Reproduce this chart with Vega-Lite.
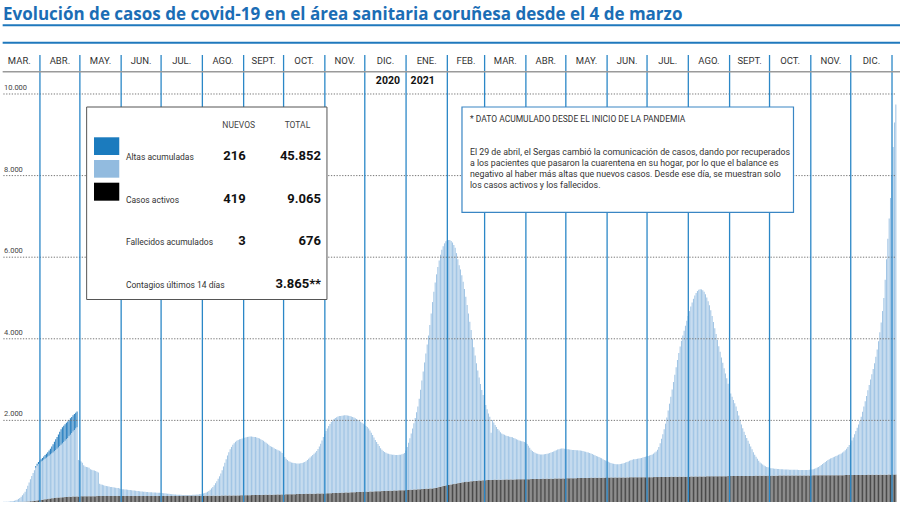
{
"$schema":"https://vega.github.io/schema/vega-lite/v6.json",
"width":900,"height":480,
"autosize":{"type":"none"},
"padding":{"top":43,"left":0,"right":0,"bottom":0},
"background":"white",
"config":{"view":{"stroke":null},"font":"Roboto"},
"title":{"text":"Evolución de casos de covid-19 en el área sanitaria coruñesa desde el 4 de marzo","anchor":"start","frame":"group","offset":-13,"baseline":"alphabetic","fontSize":17,"font":"Open Sans","fontWeight":"bold","color":"#1b6db5","dx":3},
"data":{"values":[{}]},
"datasets":{
"ejes":[{"v":2000,"t":"2.000"},{"v":4000,"t":"4.000"},{"v":6000,"t":"6.000"},{"v":8000,"t":"8.000"},{"v":10000,"t":"10.000"}],
"limites":[{"d":"2020-04-01"},{"d":"2020-05-01"},{"d":"2020-06-01"},{"d":"2020-07-01"},{"d":"2020-08-01"},{"d":"2020-09-01"},{"d":"2020-10-01"},{"d":"2020-11-01"},{"d":"2020-12-01"},{"d":"2021-01-01"},{"d":"2021-02-01"},{"d":"2021-03-01"},{"d":"2021-04-01"},{"d":"2021-05-01"},{"d":"2021-06-01"},{"d":"2021-07-01"},{"d":"2021-08-01"},{"d":"2021-09-01"},{"d":"2021-10-01"},{"d":"2021-11-01"},{"d":"2021-12-01"},{"d":"2022-01-01"}],
"meses":[{"mes":"2020-03-01","e":"MAR."},{"mes":"2020-04-01","e":"ABR."},{"mes":"2020-05-01","e":"MAY."},{"mes":"2020-06-01","e":"JUN."},{"mes":"2020-07-01","e":"JUL."},{"mes":"2020-08-01","e":"AGO."},{"mes":"2020-09-01","e":"SEPT."},{"mes":"2020-10-01","e":"OCT."},{"mes":"2020-11-01","e":"NOV."},{"mes":"2020-12-01","e":"DIC."},{"mes":"2021-01-01","e":"ENE."},{"mes":"2021-02-01","e":"FEB."},{"mes":"2021-03-01","e":"MAR."},{"mes":"2021-04-01","e":"ABR."},{"mes":"2021-05-01","e":"MAY."},{"mes":"2021-06-01","e":"JUN."},{"mes":"2021-07-01","e":"JUL."},{"mes":"2021-08-01","e":"AGO."},{"mes":"2021-09-01","e":"SEPT."},{"mes":"2021-10-01","e":"OCT."},{"mes":"2021-11-01","e":"NOV."},{"mes":"2021-12-01","e":"DIC."}],
"casos":[
{"d":"2020-03-04","f":0,"p":3},{"d":"2020-03-05","f":0,"p":4},{"d":"2020-03-06","f":0,"p":6},{"d":"2020-03-07","f":0,"p":8},{"d":"2020-03-08","f":0,"p":10},{"d":"2020-03-09","f":0,"p":14},{"d":"2020-03-10","f":0,"p":18},{"d":"2020-03-11","f":0,"p":24},{"d":"2020-03-12","f":0,"p":30},{"d":"2020-03-13","f":0,"p":40},{"d":"2020-03-14","f":0,"p":55},{"d":"2020-03-15","f":1,"p":74},{"d":"2020-03-16","f":2,"p":98},{"d":"2020-03-17","f":3,"p":127},{"d":"2020-03-18","f":4,"p":161},{"d":"2020-03-19","f":6,"p":199},{"d":"2020-03-20","f":8,"p":242},{"d":"2020-03-21","f":10,"p":310},{"d":"2020-03-22","f":12,"p":388},{"d":"2020-03-23","f":15,"p":465},{"d":"2020-03-24","f":18,"p":542},{"d":"2020-03-25","f":21,"p":619},{"d":"2020-03-26","f":25,"p":685},{"d":"2020-03-27","f":29,"p":751},{"d":"2020-03-28","f":33,"p":807,"r":40},{"d":"2020-03-29","f":38,"p":852,"r":45},{"d":"2020-03-30","f":43,"p":887,"r":50},{"d":"2020-03-31","f":47,"p":913,"r":55},
{"d":"2020-04-01","f":50,"p":940,"r":60},{"d":"2020-04-02","f":55,"p":955,"r":70},{"d":"2020-04-03","f":60,"p":975,"r":80},{"d":"2020-04-04","f":65,"p":995,"r":90},{"d":"2020-04-05","f":70,"p":1015,"r":100},{"d":"2020-04-06","f":75,"p":1035,"r":110},{"d":"2020-04-07","f":80,"p":1055,"r":125},{"d":"2020-04-08","f":85,"p":1080,"r":140},{"d":"2020-04-09","f":89,"p":1101,"r":170},{"d":"2020-04-10","f":93,"p":1122,"r":200},{"d":"2020-04-11","f":97,"p":1148,"r":230},{"d":"2020-04-12","f":101,"p":1174,"r":260},{"d":"2020-04-13","f":104,"p":1201,"r":290},{"d":"2020-04-14","f":107,"p":1228,"r":320},{"d":"2020-04-15","f":110,"p":1260,"r":350},{"d":"2020-04-16","f":113,"p":1287,"r":380},{"d":"2020-04-17","f":116,"p":1319,"r":395},{"d":"2020-04-18","f":118,"p":1352,"r":400},{"d":"2020-04-19","f":120,"p":1380,"r":405},{"d":"2020-04-20","f":122,"p":1413,"r":405},{"d":"2020-04-21","f":124,"p":1446,"r":405},{"d":"2020-04-22","f":126,"p":1484,"r":400},{"d":"2020-04-23","f":128,"p":1522,"r":400},{"d":"2020-04-24","f":130,"p":1560,"r":395},{"d":"2020-04-25","f":132,"p":1598,"r":395},{"d":"2020-04-26","f":133,"p":1632,"r":390},{"d":"2020-04-27","f":134,"p":1666,"r":390},{"d":"2020-04-28","f":135,"p":1695,"r":385},{"d":"2020-04-29","f":136,"p":894},{"d":"2020-04-30","f":137,"p":873},
{"d":"2020-05-01","f":138,"p":852},{"d":"2020-05-02","f":139,"p":821},{"d":"2020-05-03","f":139,"p":761},{"d":"2020-05-04","f":140,"p":730},{"d":"2020-05-05","f":140,"p":720},{"d":"2020-05-06","f":141,"p":709},{"d":"2020-05-07","f":141,"p":699},{"d":"2020-05-08","f":142,"p":658},{"d":"2020-05-09","f":142,"p":648},{"d":"2020-05-10","f":143,"p":637},{"d":"2020-05-11","f":143,"p":627},{"d":"2020-05-12","f":143,"p":617},{"d":"2020-05-13","f":144,"p":596},{"d":"2020-05-14","f":144,"p":576},{"d":"2020-05-15","f":144,"p":306},{"d":"2020-05-16","f":145,"p":285},{"d":"2020-05-17","f":145,"p":275},{"d":"2020-05-18","f":145,"p":265},{"d":"2020-05-19","f":145,"p":255},{"d":"2020-05-20","f":146,"p":244},{"d":"2020-05-21","f":146,"p":239},{"d":"2020-05-22","f":146,"p":234},{"d":"2020-05-23","f":146,"p":224},{"d":"2020-05-24","f":146,"p":219},{"d":"2020-05-25","f":147,"p":213},{"d":"2020-05-26","f":147,"p":208},{"d":"2020-05-27","f":147,"p":203},{"d":"2020-05-28","f":147,"p":198},{"d":"2020-05-29","f":147,"p":193},{"d":"2020-05-30","f":147,"p":183},{"d":"2020-05-31","f":147,"p":173},
{"d":"2020-06-01","f":147,"p":168},{"d":"2020-06-02","f":147,"p":165},{"d":"2020-06-03","f":147,"p":161},{"d":"2020-06-04","f":147,"p":158},{"d":"2020-06-05","f":148,"p":152},{"d":"2020-06-06","f":148,"p":148},{"d":"2020-06-07","f":148,"p":144},{"d":"2020-06-08","f":148,"p":140},{"d":"2020-06-09","f":148,"p":136},{"d":"2020-06-10","f":148,"p":132},{"d":"2020-06-11","f":148,"p":128},{"d":"2020-06-12","f":148,"p":124},{"d":"2020-06-13","f":148,"p":120},{"d":"2020-06-14","f":148,"p":116},{"d":"2020-06-15","f":149,"p":111},{"d":"2020-06-16","f":149,"p":107},{"d":"2020-06-17","f":149,"p":103},{"d":"2020-06-18","f":149,"p":99},{"d":"2020-06-19","f":149,"p":96},{"d":"2020-06-20","f":149,"p":93},{"d":"2020-06-21","f":149,"p":91},{"d":"2020-06-22","f":149,"p":89},{"d":"2020-06-23","f":149,"p":87},{"d":"2020-06-24","f":149,"p":85},{"d":"2020-06-25","f":149,"p":83},{"d":"2020-06-26","f":149,"p":81},{"d":"2020-06-27","f":149,"p":79},{"d":"2020-06-28","f":149,"p":77},{"d":"2020-06-29","f":149,"p":75},{"d":"2020-06-30","f":149,"p":73},
{"d":"2020-07-01","f":149,"p":71},{"d":"2020-07-02","f":149,"p":67},{"d":"2020-07-03","f":149,"p":63},{"d":"2020-07-04","f":149,"p":59},{"d":"2020-07-05","f":149,"p":55},{"d":"2020-07-06","f":149,"p":51},{"d":"2020-07-07","f":149,"p":47},{"d":"2020-07-08","f":149,"p":43},{"d":"2020-07-09","f":149,"p":39},{"d":"2020-07-10","f":149,"p":36},{"d":"2020-07-11","f":149,"p":33},{"d":"2020-07-12","f":149,"p":31},{"d":"2020-07-13","f":149,"p":29},{"d":"2020-07-14","f":149,"p":27},{"d":"2020-07-15","f":149,"p":26},{"d":"2020-07-16","f":150,"p":24},{"d":"2020-07-17","f":150,"p":23},{"d":"2020-07-18","f":150,"p":22},{"d":"2020-07-19","f":150,"p":22},{"d":"2020-07-20","f":150,"p":22},{"d":"2020-07-21","f":150,"p":22},{"d":"2020-07-22","f":150,"p":23},{"d":"2020-07-23","f":150,"p":24},{"d":"2020-07-24","f":150,"p":26},{"d":"2020-07-25","f":150,"p":28},{"d":"2020-07-26","f":150,"p":30},{"d":"2020-07-27","f":150,"p":33},{"d":"2020-07-28","f":150,"p":36},{"d":"2020-07-29","f":150,"p":40},{"d":"2020-07-30","f":150,"p":45},{"d":"2020-07-31","f":150,"p":50},
{"d":"2020-08-01","f":151,"p":59},{"d":"2020-08-02","f":151,"p":69},{"d":"2020-08-03","f":152,"p":83},{"d":"2020-08-04","f":152,"p":98},{"d":"2020-08-05","f":152,"p":118},{"d":"2020-08-06","f":153,"p":147},{"d":"2020-08-07","f":153,"p":182},{"d":"2020-08-08","f":153,"p":217},{"d":"2020-08-09","f":154,"p":256},{"d":"2020-08-10","f":154,"p":306},{"d":"2020-08-11","f":154,"p":356},{"d":"2020-08-12","f":155,"p":415},{"d":"2020-08-13","f":155,"p":475},{"d":"2020-08-14","f":155,"p":545},{"d":"2020-08-15","f":156,"p":624},{"d":"2020-08-16","f":156,"p":714},{"d":"2020-08-17","f":157,"p":803},{"d":"2020-08-18","f":157,"p":893},{"d":"2020-08-19","f":158,"p":982},{"d":"2020-08-20","f":158,"p":1062},{"d":"2020-08-21","f":159,"p":1131},{"d":"2020-08-22","f":159,"p":1191},{"d":"2020-08-23","f":160,"p":1240},{"d":"2020-08-24","f":160,"p":1280},{"d":"2020-08-25","f":161,"p":1314},{"d":"2020-08-26","f":161,"p":1339},{"d":"2020-08-27","f":162,"p":1358},{"d":"2020-08-28","f":163,"p":1372},{"d":"2020-08-29","f":163,"p":1382},{"d":"2020-08-30","f":164,"p":1391},{"d":"2020-08-31","f":165,"p":1400},
{"d":"2020-09-01","f":166,"p":1409},{"d":"2020-09-02","f":166,"p":1419},{"d":"2020-09-03","f":167,"p":1428},{"d":"2020-09-04","f":168,"p":1432},{"d":"2020-09-05","f":168,"p":1437},{"d":"2020-09-06","f":169,"p":1436},{"d":"2020-09-07","f":170,"p":1430},{"d":"2020-09-08","f":170,"p":1425},{"d":"2020-09-09","f":171,"p":1419},{"d":"2020-09-10","f":172,"p":1408},{"d":"2020-09-11","f":172,"p":1398},{"d":"2020-09-12","f":173,"p":1382},{"d":"2020-09-13","f":174,"p":1366},{"d":"2020-09-14","f":174,"p":1346},{"d":"2020-09-15","f":175,"p":1325},{"d":"2020-09-16","f":176,"p":1299},{"d":"2020-09-17","f":176,"p":1274},{"d":"2020-09-18","f":177,"p":1248},{"d":"2020-09-19","f":178,"p":1222},{"d":"2020-09-20","f":178,"p":1197},{"d":"2020-09-21","f":179,"p":1176},{"d":"2020-09-22","f":180,"p":1160},{"d":"2020-09-23","f":180,"p":1140},{"d":"2020-09-24","f":181,"p":1119},{"d":"2020-09-25","f":182,"p":1103},{"d":"2020-09-26","f":182,"p":1088},{"d":"2020-09-27","f":183,"p":1072},{"d":"2020-09-28","f":184,"p":1056},{"d":"2020-09-29","f":184,"p":1016},{"d":"2020-09-30","f":185,"p":965},
{"d":"2020-10-01","f":186,"p":914},{"d":"2020-10-02","f":187,"p":873},{"d":"2020-10-03","f":187,"p":843},{"d":"2020-10-04","f":188,"p":812},{"d":"2020-10-05","f":189,"p":796},{"d":"2020-10-06","f":190,"p":780},{"d":"2020-10-07","f":191,"p":769},{"d":"2020-10-08","f":191,"p":764},{"d":"2020-10-09","f":192,"p":758},{"d":"2020-10-10","f":193,"p":752},{"d":"2020-10-11","f":194,"p":751},{"d":"2020-10-12","f":195,"p":750},{"d":"2020-10-13","f":195,"p":755},{"d":"2020-10-14","f":196,"p":759},{"d":"2020-10-15","f":197,"p":768},{"d":"2020-10-16","f":198,"p":782},{"d":"2020-10-17","f":199,"p":801},{"d":"2020-10-18","f":199,"p":831},{"d":"2020-10-19","f":200,"p":860},{"d":"2020-10-20","f":201,"p":889},{"d":"2020-10-21","f":202,"p":918},{"d":"2020-10-22","f":203,"p":947},{"d":"2020-10-23","f":203,"p":977},{"d":"2020-10-24","f":204,"p":1011},{"d":"2020-10-25","f":205,"p":1045},{"d":"2020-10-26","f":206,"p":1094},{"d":"2020-10-27","f":207,"p":1153},{"d":"2020-10-28","f":207,"p":1223},{"d":"2020-10-29","f":208,"p":1302},{"d":"2020-10-30","f":209,"p":1381},{"d":"2020-10-31","f":210,"p":1460},
{"d":"2020-11-01","f":211,"p":1529},{"d":"2020-11-02","f":213,"p":1587},{"d":"2020-11-03","f":214,"p":1646},{"d":"2020-11-04","f":215,"p":1695},{"d":"2020-11-05","f":217,"p":1743},{"d":"2020-11-06","f":218,"p":1782},{"d":"2020-11-07","f":219,"p":1816},{"d":"2020-11-08","f":221,"p":1839},{"d":"2020-11-09","f":222,"p":1858},{"d":"2020-11-10","f":223,"p":1872},{"d":"2020-11-11","f":225,"p":1880},{"d":"2020-11-12","f":226,"p":1884},{"d":"2020-11-13","f":227,"p":1888},{"d":"2020-11-14","f":229,"p":1891},{"d":"2020-11-15","f":230,"p":1895},{"d":"2020-11-16","f":231,"p":1894},{"d":"2020-11-17","f":233,"p":1887},{"d":"2020-11-18","f":234,"p":1881},{"d":"2020-11-19","f":235,"p":1870},{"d":"2020-11-20","f":237,"p":1858},{"d":"2020-11-21","f":238,"p":1847},{"d":"2020-11-22","f":239,"p":1831},{"d":"2020-11-23","f":241,"p":1814},{"d":"2020-11-24","f":242,"p":1793},{"d":"2020-11-25","f":243,"p":1767},{"d":"2020-11-26","f":245,"p":1745},{"d":"2020-11-27","f":246,"p":1719},{"d":"2020-11-28","f":247,"p":1693},{"d":"2020-11-29","f":249,"p":1666},{"d":"2020-11-30","f":250,"p":1640},
{"d":"2020-12-01","f":251,"p":1614},{"d":"2020-12-02","f":253,"p":1587},{"d":"2020-12-03","f":254,"p":1546},{"d":"2020-12-04","f":255,"p":1495},{"d":"2020-12-05","f":257,"p":1443},{"d":"2020-12-06","f":258,"p":1382},{"d":"2020-12-07","f":259,"p":1321},{"d":"2020-12-08","f":261,"p":1259},{"d":"2020-12-09","f":262,"p":1208},{"d":"2020-12-10","f":263,"p":1157},{"d":"2020-12-11","f":265,"p":1105},{"d":"2020-12-12","f":266,"p":1054},{"d":"2020-12-13","f":267,"p":1013},{"d":"2020-12-14","f":269,"p":981},{"d":"2020-12-15","f":270,"p":955},{"d":"2020-12-16","f":271,"p":934},{"d":"2020-12-17","f":273,"p":917},{"d":"2020-12-18","f":274,"p":906},{"d":"2020-12-19","f":275,"p":895},{"d":"2020-12-20","f":277,"p":888},{"d":"2020-12-21","f":278,"p":882},{"d":"2020-12-22","f":279,"p":876},{"d":"2020-12-23","f":281,"p":869},{"d":"2020-12-24","f":282,"p":868},{"d":"2020-12-25","f":283,"p":867},{"d":"2020-12-26","f":285,"p":870},{"d":"2020-12-27","f":286,"p":874},{"d":"2020-12-28","f":287,"p":883},{"d":"2020-12-29","f":289,"p":891},{"d":"2020-12-30","f":290,"p":910},{"d":"2020-12-31","f":292,"p":968},
{"d":"2021-01-01","f":294,"p":1056},{"d":"2021-01-02","f":296,"p":1154},{"d":"2021-01-03","f":298,"p":1262},{"d":"2021-01-04","f":300,"p":1380},{"d":"2021-01-05","f":302,"p":1498},{"d":"2021-01-06","f":304,"p":1626},{"d":"2021-01-07","f":306,"p":1754},{"d":"2021-01-08","f":308,"p":1892},{"d":"2021-01-09","f":310,"p":2030},{"d":"2021-01-10","f":312,"p":2218},{"d":"2021-01-11","f":314,"p":2436},{"d":"2021-01-12","f":316,"p":2664},{"d":"2021-01-13","f":318,"p":2882},{"d":"2021-01-14","f":320,"p":3100},{"d":"2021-01-15","f":322,"p":3318},{"d":"2021-01-16","f":324,"p":3536},{"d":"2021-01-17","f":326,"p":3754},{"d":"2021-01-18","f":328,"p":4012},{"d":"2021-01-19","f":330,"p":4290},{"d":"2021-01-20","f":332,"p":4568},{"d":"2021-01-21","f":335,"p":4815},{"d":"2021-01-22","f":342,"p":5038},{"d":"2021-01-23","f":350,"p":5230},{"d":"2021-01-24","f":358,"p":5402},{"d":"2021-01-25","f":366,"p":5554},{"d":"2021-01-26","f":374,"p":5686},{"d":"2021-01-27","f":382,"p":5798},{"d":"2021-01-28","f":390,"p":5880},{"d":"2021-01-29","f":398,"p":5942},{"d":"2021-01-30","f":406,"p":5984},{"d":"2021-01-31","f":412,"p":5998},
{"d":"2021-02-01","f":417,"p":6003},{"d":"2021-02-02","f":424,"p":5996},{"d":"2021-02-03","f":430,"p":5970},{"d":"2021-02-04","f":436,"p":5924},{"d":"2021-02-05","f":442,"p":5858},{"d":"2021-02-06","f":448,"p":5782},{"d":"2021-02-07","f":454,"p":5646},{"d":"2021-02-08","f":460,"p":5490},{"d":"2021-02-09","f":466,"p":5334},{"d":"2021-02-10","f":472,"p":5228},{"d":"2021-02-11","f":478,"p":5082},{"d":"2021-02-12","f":485,"p":4915},{"d":"2021-02-13","f":489,"p":4731},{"d":"2021-02-14","f":493,"p":4537},{"d":"2021-02-15","f":497,"p":4333},{"d":"2021-02-16","f":500,"p":4120},{"d":"2021-02-17","f":503,"p":3917},{"d":"2021-02-18","f":506,"p":3709},{"d":"2021-02-19","f":509,"p":3491},{"d":"2021-02-20","f":512,"p":3278},{"d":"2021-02-21","f":515,"p":3075},{"d":"2021-02-22","f":518,"p":2882},{"d":"2021-02-23","f":521,"p":2699},{"d":"2021-02-24","f":524,"p":2526},{"d":"2021-02-25","f":527,"p":2363},{"d":"2021-02-26","f":529,"p":2216},{"d":"2021-02-27","f":531,"p":2089},{"d":"2021-02-28","f":533,"p":1967},
{"d":"2021-03-01","f":535,"p":1845},{"d":"2021-03-02","f":537,"p":1733},{"d":"2021-03-03","f":539,"p":1631},{"d":"2021-03-04","f":540,"p":1550},{"d":"2021-03-05","f":541,"p":1159},{"d":"2021-03-06","f":542,"p":1468},{"d":"2021-03-07","f":543,"p":1407},{"d":"2021-03-08","f":544,"p":1346},{"d":"2021-03-09","f":545,"p":1295},{"d":"2021-03-10","f":545,"p":1245},{"d":"2021-03-11","f":546,"p":1204},{"d":"2021-03-12","f":547,"p":1163},{"d":"2021-03-13","f":548,"p":1132},{"d":"2021-03-14","f":548,"p":1112},{"d":"2021-03-15","f":549,"p":1096},{"d":"2021-03-16","f":550,"p":1080},{"d":"2021-03-17","f":550,"p":1070},{"d":"2021-03-18","f":551,"p":1059},{"d":"2021-03-19","f":552,"p":1048},{"d":"2021-03-20","f":552,"p":1043},{"d":"2021-03-21","f":553,"p":1032},{"d":"2021-03-22","f":554,"p":1016},{"d":"2021-03-23","f":554,"p":1001},{"d":"2021-03-24","f":555,"p":985},{"d":"2021-03-25","f":555,"p":970},{"d":"2021-03-26","f":556,"p":954},{"d":"2021-03-27","f":556,"p":944},{"d":"2021-03-28","f":557,"p":933},{"d":"2021-03-29","f":557,"p":923},{"d":"2021-03-30","f":558,"p":912},{"d":"2021-03-31","f":558,"p":897},
{"d":"2021-04-01","f":559,"p":861},{"d":"2021-04-02","f":560,"p":820},{"d":"2021-04-03","f":560,"p":770},{"d":"2021-04-04","f":561,"p":719},{"d":"2021-04-05","f":562,"p":688},{"d":"2021-04-06","f":562,"p":663},{"d":"2021-04-07","f":563,"p":642},{"d":"2021-04-08","f":564,"p":626},{"d":"2021-04-09","f":564,"p":616},{"d":"2021-04-10","f":565,"p":605},{"d":"2021-04-11","f":566,"p":599},{"d":"2021-04-12","f":566,"p":599},{"d":"2021-04-13","f":567,"p":598},{"d":"2021-04-14","f":568,"p":602},{"d":"2021-04-15","f":568,"p":607},{"d":"2021-04-16","f":569,"p":611},{"d":"2021-04-17","f":570,"p":620},{"d":"2021-04-18","f":570,"p":630},{"d":"2021-04-19","f":571,"p":639},{"d":"2021-04-20","f":572,"p":653},{"d":"2021-04-21","f":572,"p":668},{"d":"2021-04-22","f":573,"p":682},{"d":"2021-04-23","f":574,"p":696},{"d":"2021-04-24","f":574,"p":711},{"d":"2021-04-25","f":575,"p":720},{"d":"2021-04-26","f":576,"p":729},{"d":"2021-04-27","f":576,"p":734},{"d":"2021-04-28","f":577,"p":733},{"d":"2021-04-29","f":578,"p":727},{"d":"2021-04-30","f":579,"p":721},
{"d":"2021-05-01","f":580,"p":715},{"d":"2021-05-02","f":580,"p":710},{"d":"2021-05-03","f":581,"p":704},{"d":"2021-05-04","f":582,"p":698},{"d":"2021-05-05","f":582,"p":693},{"d":"2021-05-06","f":583,"p":692},{"d":"2021-05-07","f":584,"p":691},{"d":"2021-05-08","f":584,"p":686},{"d":"2021-05-09","f":585,"p":685},{"d":"2021-05-10","f":586,"p":679},{"d":"2021-05-11","f":586,"p":674},{"d":"2021-05-12","f":587,"p":668},{"d":"2021-05-13","f":588,"p":662},{"d":"2021-05-14","f":588,"p":652},{"d":"2021-05-15","f":589,"p":641},{"d":"2021-05-16","f":590,"p":630},{"d":"2021-05-17","f":590,"p":620},{"d":"2021-05-18","f":591,"p":609},{"d":"2021-05-19","f":592,"p":598},{"d":"2021-05-20","f":592,"p":583},{"d":"2021-05-21","f":593,"p":567},{"d":"2021-05-22","f":594,"p":551},{"d":"2021-05-23","f":594,"p":536},{"d":"2021-05-24","f":595,"p":520},{"d":"2021-05-25","f":595,"p":505},{"d":"2021-05-26","f":596,"p":489},{"d":"2021-05-27","f":596,"p":474},{"d":"2021-05-28","f":597,"p":453},{"d":"2021-05-29","f":597,"p":433},{"d":"2021-05-30","f":598,"p":417},{"d":"2021-05-31","f":598,"p":402},
{"d":"2021-06-01","f":598,"p":387},{"d":"2021-06-02","f":599,"p":371},{"d":"2021-06-03","f":599,"p":356},{"d":"2021-06-04","f":599,"p":346},{"d":"2021-06-05","f":600,"p":335},{"d":"2021-06-06","f":600,"p":330},{"d":"2021-06-07","f":600,"p":325},{"d":"2021-06-08","f":601,"p":324},{"d":"2021-06-09","f":601,"p":324},{"d":"2021-06-10","f":601,"p":329},{"d":"2021-06-11","f":602,"p":333},{"d":"2021-06-12","f":602,"p":343},{"d":"2021-06-13","f":602,"p":353},{"d":"2021-06-14","f":603,"p":362},{"d":"2021-06-15","f":603,"p":377},{"d":"2021-06-16","f":603,"p":392},{"d":"2021-06-17","f":604,"p":406},{"d":"2021-06-18","f":604,"p":421},{"d":"2021-06-19","f":604,"p":431},{"d":"2021-06-20","f":605,"p":440},{"d":"2021-06-21","f":605,"p":445},{"d":"2021-06-22","f":605,"p":450},{"d":"2021-06-23","f":605,"p":455},{"d":"2021-06-24","f":606,"p":459},{"d":"2021-06-25","f":606,"p":464},{"d":"2021-06-26","f":606,"p":474},{"d":"2021-06-27","f":606,"p":484},{"d":"2021-06-28","f":607,"p":493},{"d":"2021-06-29","f":607,"p":503},{"d":"2021-06-30","f":607,"p":513},
{"d":"2021-07-01","f":608,"p":522},{"d":"2021-07-02","f":608,"p":532},{"d":"2021-07-03","f":609,"p":541},{"d":"2021-07-04","f":609,"p":556},{"d":"2021-07-05","f":610,"p":575},{"d":"2021-07-06","f":610,"p":600},{"d":"2021-07-07","f":611,"p":629},{"d":"2021-07-08","f":611,"p":669},{"d":"2021-07-09","f":612,"p":738},{"d":"2021-07-10","f":612,"p":828},{"d":"2021-07-11","f":613,"p":937},{"d":"2021-07-12","f":613,"p":1047},{"d":"2021-07-13","f":614,"p":1166},{"d":"2021-07-14","f":614,"p":1306},{"d":"2021-07-15","f":615,"p":1455},{"d":"2021-07-16","f":615,"p":1625},{"d":"2021-07-17","f":616,"p":1794},{"d":"2021-07-18","f":616,"p":1964},{"d":"2021-07-19","f":617,"p":2143},{"d":"2021-07-20","f":617,"p":2323},{"d":"2021-07-21","f":618,"p":2502},{"d":"2021-07-22","f":618,"p":2682},{"d":"2021-07-23","f":619,"p":2861},{"d":"2021-07-24","f":619,"p":3031},{"d":"2021-07-25","f":620,"p":3190},{"d":"2021-07-26","f":620,"p":3330},{"d":"2021-07-27","f":620,"p":3460},{"d":"2021-07-28","f":621,"p":3579},{"d":"2021-07-29","f":621,"p":3699},{"d":"2021-07-30","f":621,"p":3819},{"d":"2021-07-31","f":621,"p":3939},
{"d":"2021-08-01","f":622,"p":4058},{"d":"2021-08-02","f":622,"p":4168},{"d":"2021-08-03","f":623,"p":4267},{"d":"2021-08-04","f":623,"p":4357},{"d":"2021-08-05","f":624,"p":4436},{"d":"2021-08-06","f":624,"p":4496},{"d":"2021-08-07","f":625,"p":4545},{"d":"2021-08-08","f":625,"p":4575},{"d":"2021-08-09","f":626,"p":4589},{"d":"2021-08-10","f":626,"p":4584},{"d":"2021-08-11","f":627,"p":4563},{"d":"2021-08-12","f":627,"p":4523},{"d":"2021-08-13","f":627,"p":4463},{"d":"2021-08-14","f":628,"p":4382},{"d":"2021-08-15","f":628,"p":4292},{"d":"2021-08-16","f":628,"p":4192},{"d":"2021-08-17","f":629,"p":4071},{"d":"2021-08-18","f":629,"p":3931},{"d":"2021-08-19","f":629,"p":3781},{"d":"2021-08-20","f":630,"p":3630},{"d":"2021-08-21","f":630,"p":3490},{"d":"2021-08-22","f":630,"p":3340},{"d":"2021-08-23","f":631,"p":3189},{"d":"2021-08-24","f":631,"p":3049},{"d":"2021-08-25","f":631,"p":2909},{"d":"2021-08-26","f":632,"p":2778},{"d":"2021-08-27","f":632,"p":2648},{"d":"2021-08-28","f":633,"p":2517},{"d":"2021-08-29","f":633,"p":2397},{"d":"2021-08-30","f":634,"p":2266},{"d":"2021-08-31","f":634,"p":2146},
{"d":"2021-09-01","f":635,"p":2025},{"d":"2021-09-02","f":635,"p":1945},{"d":"2021-09-03","f":635,"p":1865},{"d":"2021-09-04","f":636,"p":1784},{"d":"2021-09-05","f":636,"p":1704},{"d":"2021-09-06","f":636,"p":1594},{"d":"2021-09-07","f":637,"p":1483},{"d":"2021-09-08","f":637,"p":1373},{"d":"2021-09-09","f":637,"p":1263},{"d":"2021-09-10","f":638,"p":1172},{"d":"2021-09-11","f":638,"p":1082},{"d":"2021-09-12","f":638,"p":1002},{"d":"2021-09-13","f":639,"p":931},{"d":"2021-09-14","f":639,"p":861},{"d":"2021-09-15","f":639,"p":791},{"d":"2021-09-16","f":640,"p":720},{"d":"2021-09-17","f":640,"p":650},{"d":"2021-09-18","f":640,"p":580},{"d":"2021-09-19","f":641,"p":519},{"d":"2021-09-20","f":641,"p":469},{"d":"2021-09-21","f":641,"p":419},{"d":"2021-09-22","f":642,"p":368},{"d":"2021-09-23","f":642,"p":328},{"d":"2021-09-24","f":642,"p":303},{"d":"2021-09-25","f":643,"p":277},{"d":"2021-09-26","f":643,"p":252},{"d":"2021-09-27","f":643,"p":232},{"d":"2021-09-28","f":644,"p":216},{"d":"2021-09-29","f":644,"p":206},{"d":"2021-09-30","f":645,"p":195},
{"d":"2021-10-01","f":645,"p":185},{"d":"2021-10-02","f":645,"p":180},{"d":"2021-10-03","f":646,"p":174},{"d":"2021-10-04","f":646,"p":169},{"d":"2021-10-05","f":646,"p":166},{"d":"2021-10-06","f":646,"p":164},{"d":"2021-10-07","f":647,"p":161},{"d":"2021-10-08","f":647,"p":158},{"d":"2021-10-09","f":647,"p":155},{"d":"2021-10-10","f":647,"p":153},{"d":"2021-10-11","f":648,"p":150},{"d":"2021-10-12","f":648,"p":148},{"d":"2021-10-13","f":648,"p":147},{"d":"2021-10-14","f":648,"p":146},{"d":"2021-10-15","f":649,"p":144},{"d":"2021-10-16","f":649,"p":143},{"d":"2021-10-17","f":649,"p":141},{"d":"2021-10-18","f":649,"p":141},{"d":"2021-10-19","f":650,"p":139},{"d":"2021-10-20","f":650,"p":138},{"d":"2021-10-21","f":650,"p":138},{"d":"2021-10-22","f":650,"p":137},{"d":"2021-10-23","f":650,"p":137},{"d":"2021-10-24","f":651,"p":135},{"d":"2021-10-25","f":651,"p":135},{"d":"2021-10-26","f":651,"p":135},{"d":"2021-10-27","f":651,"p":135},{"d":"2021-10-28","f":651,"p":135},{"d":"2021-10-29","f":652,"p":135},{"d":"2021-10-30","f":652,"p":136},{"d":"2021-10-31","f":652,"p":138},
{"d":"2021-11-01","f":652,"p":143},{"d":"2021-11-02","f":653,"p":152},{"d":"2021-11-03","f":653,"p":162},{"d":"2021-11-04","f":653,"p":177},{"d":"2021-11-05","f":653,"p":192},{"d":"2021-11-06","f":654,"p":206},{"d":"2021-11-07","f":654,"p":226},{"d":"2021-11-08","f":654,"p":251},{"d":"2021-11-09","f":654,"p":276},{"d":"2021-11-10","f":655,"p":300},{"d":"2021-11-11","f":655,"p":325},{"d":"2021-11-12","f":655,"p":350},{"d":"2021-11-13","f":655,"p":375},{"d":"2021-11-14","f":656,"p":394},{"d":"2021-11-15","f":656,"p":409},{"d":"2021-11-16","f":656,"p":424},{"d":"2021-11-17","f":656,"p":439},{"d":"2021-11-18","f":657,"p":453},{"d":"2021-11-19","f":657,"p":468},{"d":"2021-11-20","f":657,"p":483},{"d":"2021-11-21","f":657,"p":498},{"d":"2021-11-22","f":658,"p":512},{"d":"2021-11-23","f":658,"p":532},{"d":"2021-11-24","f":658,"p":557},{"d":"2021-11-25","f":658,"p":582},{"d":"2021-11-26","f":659,"p":611},{"d":"2021-11-27","f":659,"p":646},{"d":"2021-11-28","f":659,"p":686},{"d":"2021-11-29","f":660,"p":735},{"d":"2021-11-30","f":660,"p":790},
{"d":"2021-12-01","f":661,"p":849},{"d":"2021-12-02","f":661,"p":919},{"d":"2021-12-03","f":661,"p":999},{"d":"2021-12-04","f":662,"p":1078},{"d":"2021-12-05","f":662,"p":1158},{"d":"2021-12-06","f":662,"p":1238},{"d":"2021-12-07","f":663,"p":1327},{"d":"2021-12-08","f":663,"p":1427},{"d":"2021-12-09","f":663,"p":1547},{"d":"2021-12-10","f":664,"p":1676},{"d":"2021-12-11","f":664,"p":1806},{"d":"2021-12-12","f":664,"p":1936},{"d":"2021-12-13","f":665,"p":2075},{"d":"2021-12-14","f":665,"p":2205},{"d":"2021-12-15","f":665,"p":2335},{"d":"2021-12-16","f":666,"p":2464},{"d":"2021-12-17","f":666,"p":2594},{"d":"2021-12-18","f":666,"p":2734},{"d":"2021-12-19","f":667,"p":2893},{"d":"2021-12-20","f":667,"p":3073},{"d":"2021-12-21","f":667,"p":3273},{"d":"2021-12-22","f":668,"p":3492},{"d":"2021-12-23","f":668,"p":3732},{"d":"2021-12-24","f":668,"p":4012},{"d":"2021-12-25","f":669,"p":4331},{"d":"2021-12-26","f":669,"p":4781},{"d":"2021-12-27","f":670,"p":5280},{"d":"2021-12-28","f":670,"p":5780},{"d":"2021-12-29","f":671,"p":6279},{"d":"2021-12-30","f":672,"p":6778},{"d":"2021-12-31","f":673,"p":7327},
{"d":"2022-01-01","f":674,"p":8026},{"d":"2022-01-02","f":675,"p":8625},{"d":"2022-01-03","f":676,"p":9065}
]},
"layer":[
{"data":{"name":"casos"},
 "transform":[{"fold":["f","p","r"],"as":["serie","valor"]},{"filter":"isValid(datum.valor)"}],
 "mark":{"type":"bar","binSpacing":0.25},
 "encoding":{
  "x":{"field":"d","type":"temporal","timeUnit":"utcyearmonthdate","scale":{"type":"utc","domain":[{"year":2020,"month":3,"date":2,"utc":true},{"year":2022,"month":1,"date":7,"utc":true}]},"axis":null},
  "y":{"field":"valor","type":"quantitative","stack":"zero","scale":{"domain":[-515,11250],"nice":false,"zero":false},"axis":null},
  "color":{"field":"serie","type":"nominal","scale":{"domain":["f","p","r"],"range":["#4a4a4a","#a3c6e5","#2a80c1"]},"legend":null},
  "order":{"field":"serie","sort":"ascending"}}},
{"data":{"name":"ejes"},"mark":{"type":"rule","color":"#777777","strokeWidth":1,"strokeDash":[1.3,1.5]},
 "encoding":{"x":{"datum":{"year":2020,"month":3,"date":4,"hours":12,"utc":true},"type":"temporal"},"x2":{"datum":{"year":2022,"month":1,"date":3,"hours":6,"utc":true}},"y":{"field":"v","type":"quantitative"}}},
{"data":{"name":"ejes"},"mark":{"type":"text","align":"left","baseline":"alphabetic","dy":-4,"fontSize":7.5,"font":"Roboto","color":"#444444"},
 "encoding":{"x":{"datum":{"year":2020,"month":3,"date":5,"utc":true},"type":"temporal"},"y":{"field":"v","type":"quantitative"},"text":{"field":"t"}}},
{"data":{"name":"limites"},"mark":{"type":"rule","color":"#2b87c7","strokeWidth":1.3},
 "encoding":{"x":{"field":"d","type":"temporal"},"y":{"datum":10956,"type":"quantitative"},"y2":{"datum":0}}},
{"data":{"name":"meses"},"mark":{"type":"text","fontSize":9.5,"font":"Roboto","color":"#333333","baseline":"alphabetic","align":"center"},
 "encoding":{"x":{"field":"mes","type":"temporal","timeUnit":"utcyearmonth","bandPosition":0.5},"y":{"datum":10735,"type":"quantitative"},"text":{"field":"e"}}},
{"mark":{"type":"rule","color":"#1f78bd","strokeWidth":2},
 "encoding":{"x":{"datum":{"year":2020,"month":3,"date":4,"utc":true},"type":"temporal"},"x2":{"datum":{"year":2022,"month":1,"date":7,"utc":true}},"y":{"datum":11686,"type":"quantitative"}}},
{"mark":{"type":"rule","color":"#1f78bd","strokeWidth":2},
 "encoding":{"x":{"datum":{"year":2020,"month":3,"date":4,"utc":true},"type":"temporal"},"x2":{"datum":{"year":2022,"month":1,"date":7,"utc":true}},"y":{"datum":11257,"type":"quantitative"}}},
{"mark":{"type":"rule","color":"#9a9a9a","strokeWidth":1.5},
 "encoding":{"x":{"datum":{"year":2020,"month":3,"date":4,"utc":true},"type":"temporal"},"x2":{"datum":{"year":2022,"month":1,"date":7,"utc":true}},"y":{"datum":10544,"type":"quantitative"}}},
{"mark":{"type":"text","text":"2020","align":"right","baseline":"middle","fontSize":10.5,"fontWeight":"bold","font":"Roboto","color":"#111111"},
 "encoding":{"x":{"datum":{"year":2020,"month":12,"date":27,"hours":10,"utc":true},"type":"temporal"},"y":{"datum":10319,"type":"quantitative"}}},
{"mark":{"type":"text","text":"2021","align":"left","baseline":"middle","fontSize":10.5,"fontWeight":"bold","font":"Roboto","color":"#111111"},
 "encoding":{"x":{"datum":{"year":2021,"month":1,"date":4,"hours":10,"utc":true},"type":"temporal"},"y":{"datum":10319,"type":"quantitative"}}},
{"mark":{"type":"rect","fill":"white","stroke":"#555555","strokeWidth":1},
 "encoding":{"x":{"datum":{"year":2020,"month":5,"date":6,"hours":2,"utc":true},"type":"temporal"},"x2":{"datum":{"year":2020,"month":11,"date":2,"hours":14,"utc":true}},"y":{"datum":9681,"type":"quantitative"},"y2":{"datum":4963}}},
{"mark":{"type":"rect","fill":"#1b7bbe"},
 "encoding":{"x":{"datum":{"year":2020,"month":5,"date":11,"hours":14,"utc":true},"type":"temporal"},"x2":{"datum":{"year":2020,"month":5,"date":30,"hours":14,"utc":true}},"y":{"datum":8939,"type":"quantitative"},"y2":{"datum":8505}}},
{"mark":{"type":"rect","fill":"#92bbdf"},
 "encoding":{"x":{"datum":{"year":2020,"month":5,"date":11,"hours":14,"utc":true},"type":"temporal"},"x2":{"datum":{"year":2020,"month":5,"date":30,"hours":14,"utc":true}},"y":{"datum":8382,"type":"quantitative"},"y2":{"datum":7949}}},
{"mark":{"type":"rect","fill":"#000000"},
 "encoding":{"x":{"datum":{"year":2020,"month":5,"date":11,"hours":14,"utc":true},"type":"temporal"},"x2":{"datum":{"year":2020,"month":5,"date":30,"hours":14,"utc":true}},"y":{"datum":7826,"type":"quantitative"},"y2":{"datum":7385}}},
{"mark":{"type":"text","text":"NUEVOS","align":"center","baseline":"alphabetic","fontSize":8.5,"font":"Roboto","color":"#444444"},
 "encoding":{"x":{"datum":{"year":2020,"month":8,"date":28,"hours":7,"utc":true},"type":"temporal"},"y":{"datum":9159,"type":"quantitative"}}},
{"mark":{"type":"text","text":"TOTAL","align":"center","baseline":"alphabetic","fontSize":8.5,"font":"Roboto","color":"#444444"},
 "encoding":{"x":{"datum":{"year":2020,"month":10,"date":11,"hours":10,"utc":true},"type":"temporal"},"y":{"datum":9159,"type":"quantitative"}}},
{"mark":{"type":"text","text":["Altas acumuladas","Casos activos","Fallecidos acumulados","Contagios últimos 14 días"],"lineHeight":42.6,"align":"left","baseline":"alphabetic","fontSize":8.5,"font":"Roboto","color":"#333333"},
 "encoding":{"x":{"datum":{"year":2020,"month":6,"date":4,"hours":14,"utc":true},"type":"temporal"},"y":{"datum":8382,"type":"quantitative"}}},
{"mark":{"type":"text","text":["216","419","3"],"lineHeight":42.7,"align":"right","baseline":"alphabetic","fontSize":13,"fontWeight":"bold","font":"Roboto","color":"#111111"},
 "encoding":{"x":{"datum":{"year":2020,"month":9,"date":2,"hours":12,"utc":true},"type":"temporal"},"y":{"datum":8382,"type":"quantitative"}}},
{"mark":{"type":"text","text":["45.852","9.065","676","3.865**"],"lineHeight":42.7,"align":"right","baseline":"alphabetic","fontSize":13,"fontWeight":"bold","font":"Roboto","color":"#111111"},
 "encoding":{"x":{"datum":{"year":2020,"month":10,"date":29,"hours":2,"utc":true},"type":"temporal"},"y":{"datum":8382,"type":"quantitative"}}},
{"mark":{"type":"rect","fill":"white","stroke":"#3a86c4","strokeWidth":1.2},
 "encoding":{"x":{"datum":{"year":2021,"month":2,"date":12,"utc":true},"type":"temporal"},"x2":{"datum":{"year":2021,"month":10,"date":19,"utc":true}},"y":{"datum":9681,"type":"quantitative"},"y2":{"datum":7100}}},
{"mark":{"type":"text","text":"* DATO ACUMULADO DESDE EL INICIO DE LA PANDEMIA","align":"left","baseline":"alphabetic","fontSize":8.5,"font":"Roboto","color":"#333333"},
 "encoding":{"x":{"datum":{"year":2021,"month":2,"date":18,"utc":true},"type":"temporal"},"y":{"datum":9314,"type":"quantitative"}}},
{"mark":{"type":"text","text":["El 29 de abril, el Sergas cambió la comunicación de casos, dando por recuperados","a los pacientes que pasaron la cuarentena en su hogar, por lo que el balance es","negativo al haber más altas que nuevos casos. Desde ese día, se muestran solo","los casos activos y los fallecidos."],"lineHeight":10.8,"align":"left","baseline":"alphabetic","fontSize":8.8,"font":"Roboto","color":"#333333"},
 "encoding":{"x":{"datum":{"year":2021,"month":2,"date":18,"utc":true},"type":"temporal"},"y":{"datum":8493,"type":"quantitative"}}}
]
}
